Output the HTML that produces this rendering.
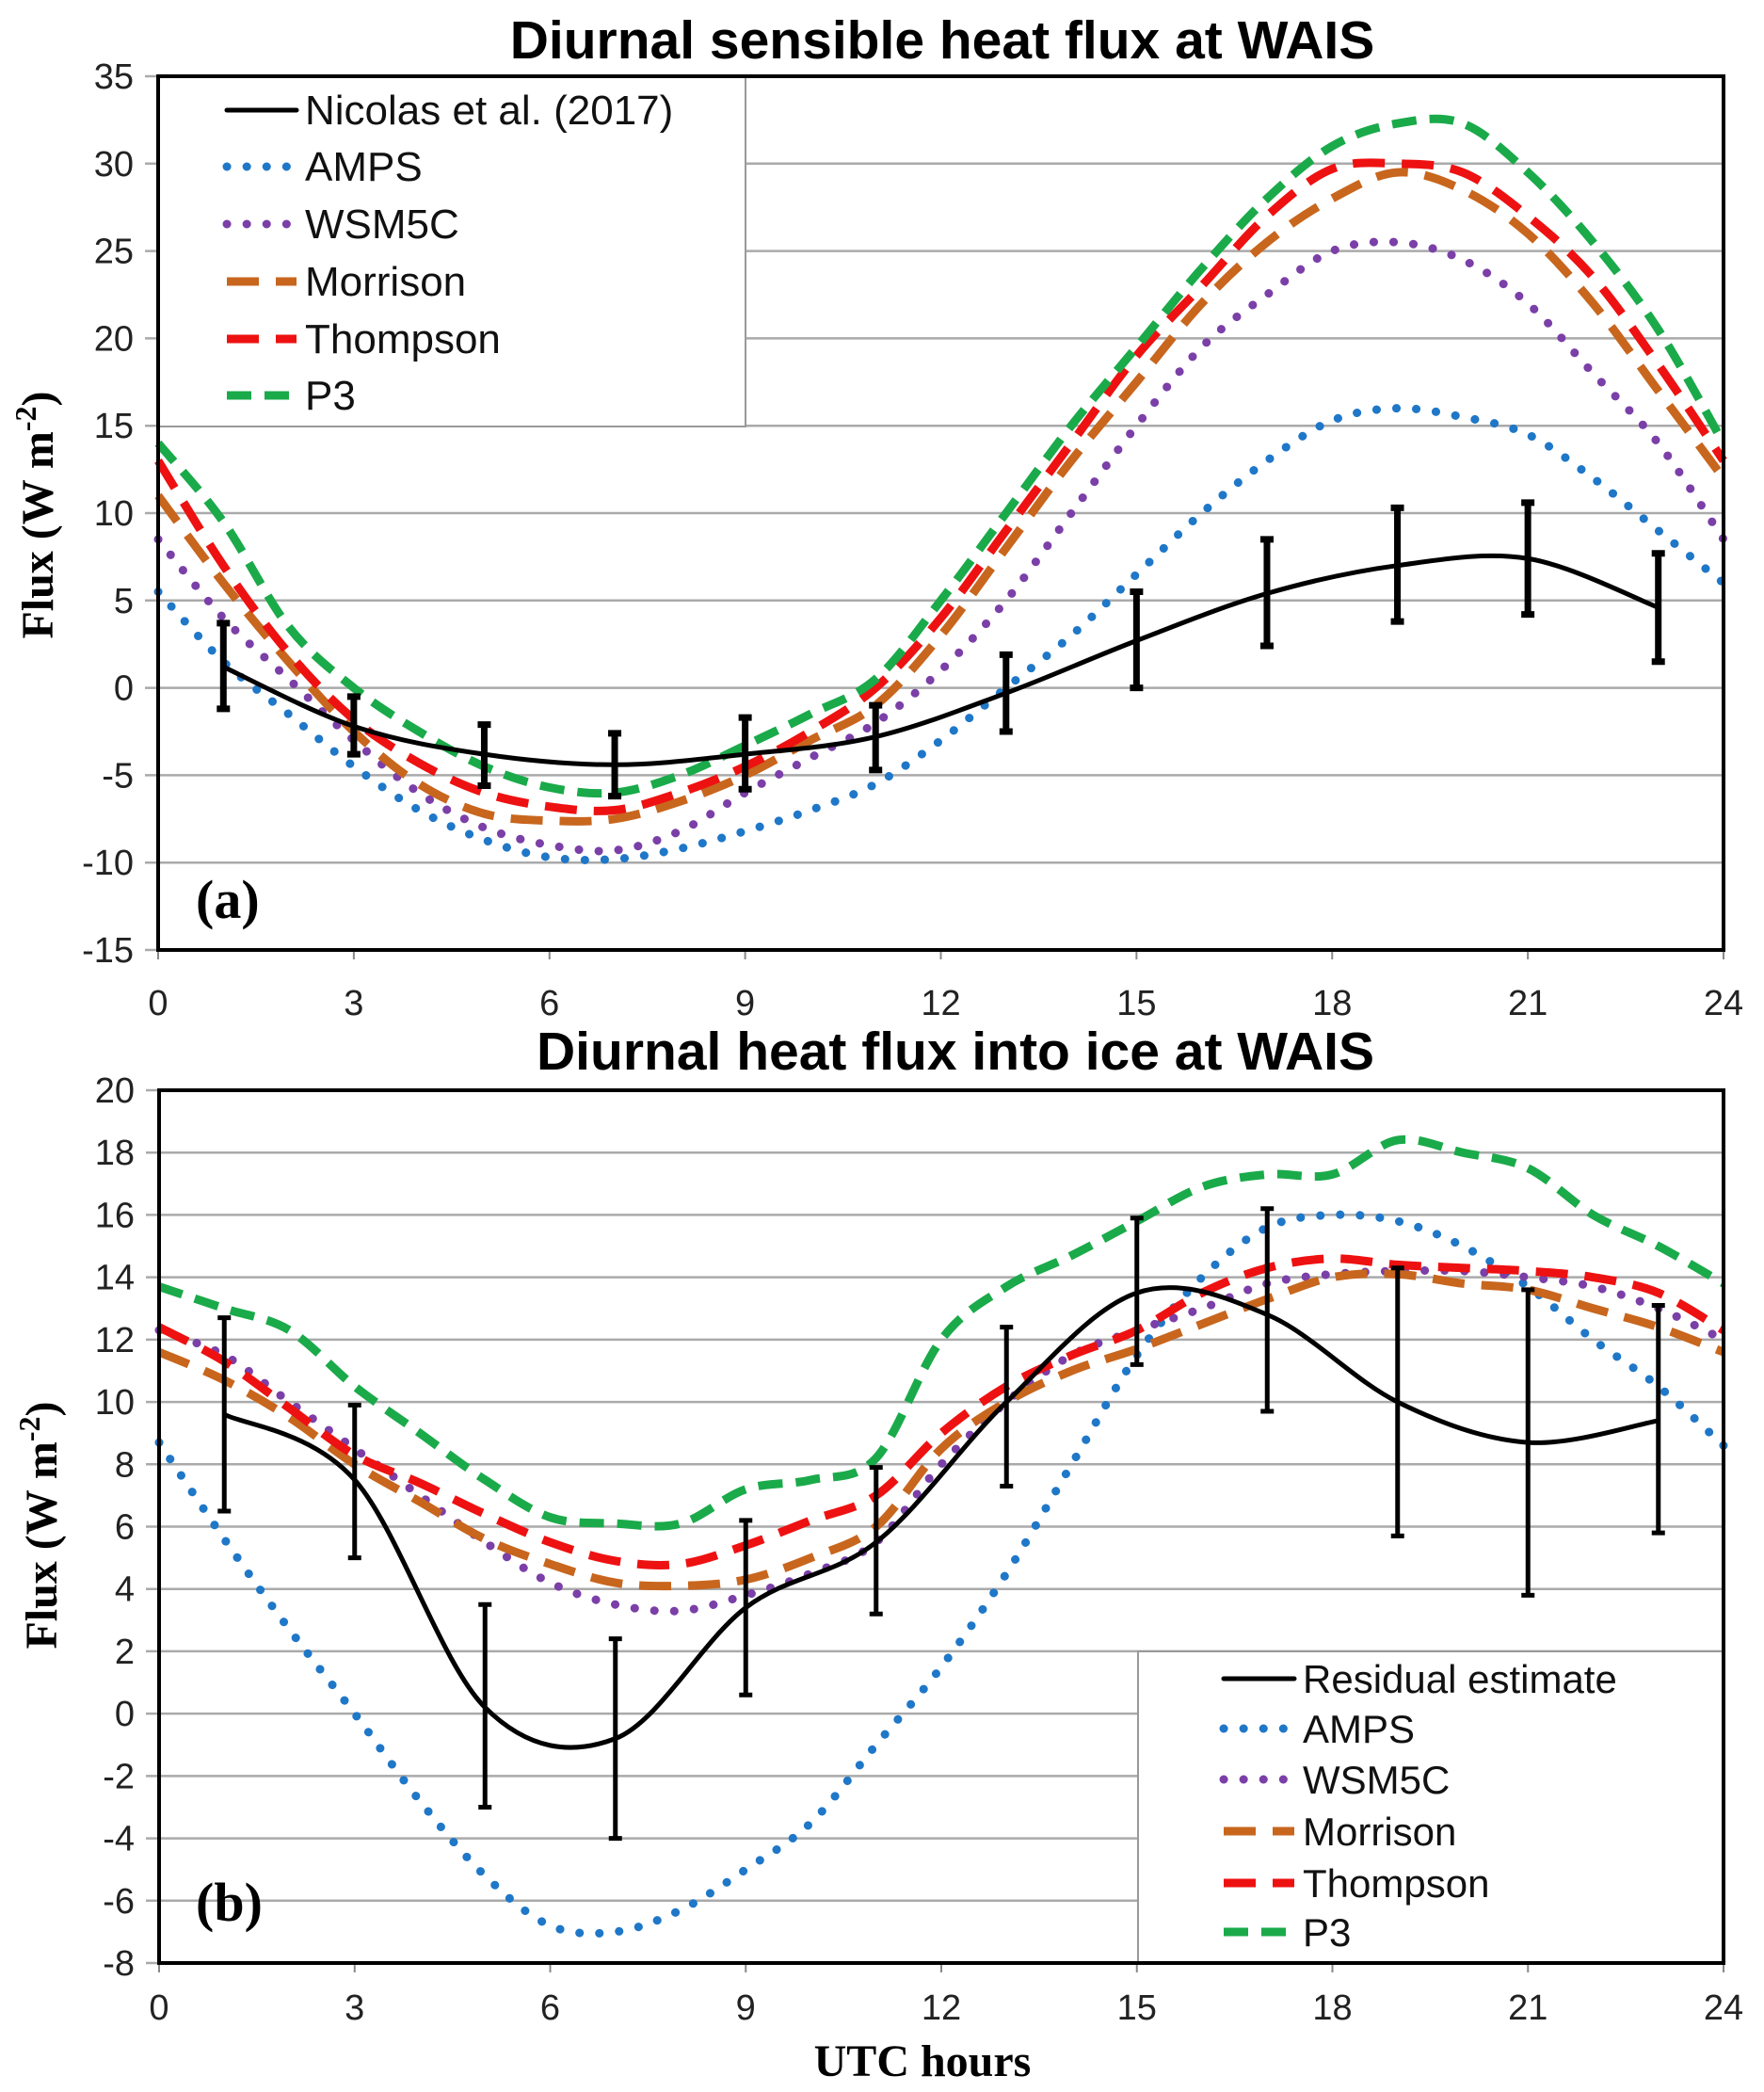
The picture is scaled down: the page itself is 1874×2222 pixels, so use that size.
<!DOCTYPE html>
<html><head><meta charset="utf-8">
<style>
html,body{margin:0;padding:0;background:#fff;}
svg{display:block;}
.tick{font-family:"Liberation Sans",Arial,sans-serif;font-size:38px;fill:#222;}
.title{font-family:"Liberation Sans",Arial,sans-serif;font-size:57px;font-weight:bold;fill:#000;}
.leg{font-family:"Liberation Sans",Arial,sans-serif;font-size:44px;fill:#111;}
.leg2{font-family:"Liberation Sans",Arial,sans-serif;font-size:42px;fill:#111;}
.axt{font-family:"Liberation Serif","Times New Roman",serif;font-size:48px;font-weight:bold;fill:#000;}
.pl{font-family:"Liberation Serif","Times New Roman",serif;font-size:58px;font-weight:bold;fill:#000;}
</style></head>
<body>
<svg id="chart" width="1874" height="2222" viewBox="0 0 1874 2222" xmlns="http://www.w3.org/2000/svg">
<text class="title" x="1001" y="62" text-anchor="middle">Diurnal sensible heat flux at WAIS</text>
<text class="title" x="1015" y="1136" text-anchor="middle">Diurnal heat flux into ice at WAIS</text>
<text class="axt" transform="translate(56,547) rotate(-90)" text-anchor="middle">Flux  (W m<tspan dy="-18" font-size="32">-2</tspan><tspan dy="18">)</tspan></text>
<text class="axt" transform="translate(60,1620) rotate(-90)" text-anchor="middle">Flux  (W m<tspan dy="-18" font-size="32">-2</tspan><tspan dy="18">)</tspan></text>
<text class="axt" x="980" y="2205" text-anchor="middle">UTC hours</text>
<g id="top"></g>
<g id="bot"></g>
</svg>
<script>
const hours = [0,1,2,3,4,5,6,7,8,9,10,11,12,13,14,15,16,17,18,19,20,21,22,23,24];
const obsHours = [1,3,5,7,9,11,13,15,17,19,21,23];
// Top panel (a)
const aNicolas = [1.2,-2.2,-3.8,-4.4,-3.8,-2.8,-0.3,2.7,5.4,7.0,7.4,4.6];
const aNicolasLo = [-1.2,-3.8,-5.6,-6.2,-5.8,-4.7,-2.5,0,2.4,3.8,4.2,1.5];
const aNicolasHi = [3.7,-0.5,-2.1,-2.6,-1.7,-1.0,1.9,5.5,8.5,10.3,10.6,7.7];
const aAMPS = [5.5,1.5,-1.5,-4.5,-7,-8.7,-9.7,-9.8,-9.2,-8.2,-7,-5.5,-3,0,3,6.5,10,13,15.3,16,15.5,14.5,12,9,6];
const aWSM5C = [8.5,4,0.5,-3,-6,-8,-9,-9.3,-8.2,-6,-4,-2,1,5,10,15,19.5,22.5,25,25.5,24.5,22,18,14,8.5];
const aMorrison = [11,6,1.5,-2.5,-5.5,-7.2,-7.6,-7.5,-6.5,-5,-3,-1,3,8,13,17.5,22,25.5,28,29.5,28.5,26,22,17,12];
const aThompson = [13,7,2,-1.8,-4.3,-6,-6.8,-7,-6,-4.5,-2.5,0,4,9,14,19,23,27,29.7,30,29.5,27,23.5,18.5,13];
const aP3 = [14,9.5,3.5,0,-2.5,-4.5,-5.7,-6,-5,-3.3,-1.5,0.5,5,10,15,19.5,24,28,31,32.3,32.3,29.5,25.5,20.5,14];
const aYTicks = [-15,-10,-5,0,5,10,15,20,25,30,35];
// Bottom panel (b)
const bResid = [9.6,7.5,0.2,-0.8,3.4,5.5,10,13.5,12.8,10,8.7,9.4];
const bResidLo = [6.5,5,-3,-4,0.6,3.2,7.3,11.2,9.7,5.7,3.8,5.8];
const bResidHi = [12.7,9.9,3.5,2.4,6.2,7.9,12.4,15.9,16.2,14.3,13.6,13.1];
const bAMPS = [8.7,5.6,2.7,0,-2.8,-5.2,-6.8,-7,-6.3,-5,-3.5,-1,1.5,4.5,8,11.5,14,15.6,16,15.8,15,13.7,12,10.5,8.6];
const bWSM5C = [12.3,11.5,10,8.5,7,5.5,4.2,3.5,3.3,3.8,4.5,5.5,8,10,11.5,12.3,13,13.8,14.1,14.2,14.2,14,13.7,13,12];
const bMorrison = [11.6,10.7,9.5,8,6.8,5.6,4.8,4.2,4.1,4.3,5,6,8.5,10,11,11.7,12.5,13.3,14,14.1,13.8,13.6,13,12.4,11.6];
const bThompson = [12.4,11.3,9.8,8.3,7.4,6.4,5.5,4.9,4.8,5.4,6.2,7,9,10.5,11.5,12.3,13.5,14.3,14.6,14.4,14.3,14.2,14,13.5,12.3];
const bP3 = [13.7,13,12.3,10.5,9,7.5,6.3,6.1,6.1,7.2,7.5,8.2,12,13.7,14.7,15.8,16.9,17.3,17.3,18.4,18,17.5,16,15,13.8];
const bYTicks = [-8,-6,-4,-2,0,2,4,6,8,10,12,14,16,18,20];
const xTicks = [0,3,6,9,12,15,18,21,24];

const NS='http://www.w3.org/2000/svg';
function mk(parent,tag,attrs){const e=document.createElementNS(NS,tag);for(const k in attrs)e.setAttribute(k,attrs[k]);parent.appendChild(e);return e;}
function smooth(pts){let d='M'+pts[0][0]+','+pts[0][1];for(let i=0;i<pts.length-1;i++){const p0=pts[i-1]||pts[i],p1=pts[i],p2=pts[i+1],p3=pts[i+2]||p2;const c1x=p1[0]+(p2[0]-p0[0])/6,c1y=p1[1]+(p2[1]-p0[1])/6,c2x=p2[0]-(p3[0]-p1[0])/6,c2y=p2[1]-(p3[1]-p1[1])/6;d+=' C'+c1x+','+c1y+' '+c2x+','+c2y+' '+p2[0]+','+p2[1];}return d;}

const styles={
 AMPS:{stroke:'#1f77c8',w:9,dash:'0.1 21',cap:'round'},
 WSM5C:{stroke:'#7b3fa8',w:9,dash:'0.1 21',cap:'round'},
 Morrison:{stroke:'#c8661e',w:9,dash:'34 18',cap:'butt'},
 Thompson:{stroke:'#ee1111',w:9,dash:'34 18',cap:'butt'},
 P3:{stroke:'#1aaa4a',w:9,dash:'26 14',cap:'butt'},
 obs:{stroke:'#000',w:5,dash:'none',cap:'round'}
};

function panel(g,cfg){
 const X0=cfg.x0,X1=cfg.x1,Y0=cfg.yTop,Y1=cfg.yBot;
 const xs=h=>X0+(h-0)/24*(X1-X0);
 const ys=v=>Y1-(v-cfg.ymin)/(cfg.ymax-cfg.ymin)*(Y1-Y0);
 cfg.yTicks.forEach(t=>{
  const y=ys(t);
  const gl=mk(g,'line',{x1:X0-14,x2:X1,y1:y,y2:y,stroke:'#aaa','stroke-width':2.5});
  
  
  const tl=mk(g,'text',{x:X0-26,y:y+13,'text-anchor':'end',class:'tick'});tl.textContent=t;
  
  
 });
 xTicks.forEach(t=>{
  const x=xs(t);
  mk(g,'line',{x1:x,x2:x,y1:Y1,y2:Y1+10,stroke:'#888','stroke-width':2});
  const tl=mk(g,'text',{x:x,y:cfg.xLabelY,'text-anchor':'middle',class:'tick'});tl.textContent=t;
  
  
 });
 const lb=cfg.legend;
 const lr=mk(g,'rect',{x:lb.x,y:lb.y,width:lb.w,height:lb.h,fill:'#fff',stroke:'#999','stroke-width':2});
 
 
 cfg.series.forEach(s=>{
  const st=styles[s.style];
  const pts=hours.map((h,i)=>[xs(h),ys(s.data[i])]);
  const p=mk(g,'path',{d:smooth(pts),fill:'none',stroke:st.stroke,'stroke-width':st.w,'stroke-dasharray':st.dash,'stroke-linecap':st.cap});
  
  
 });
 const op=obsHours.map((h,i)=>[xs(h),ys(cfg.obs[i])]);
 const ol=mk(g,'path',{d:smooth(op),fill:'none',stroke:'#000','stroke-width':5});
 
 
 obsHours.forEach((h,i)=>{
  const x=xs(h),ya=ys(cfg.lo[i]),yb=ys(cfg.hi[i]);
  const eb=mk(g,'path',{d:`M${x},${ya}V${yb}M${x-7},${ya}H${x+7}M${x-7},${yb}H${x+7}`,stroke:'#000','stroke-width':cfg.ebw,fill:'none'});
  
  
 });
 const fr=mk(g,'rect',{x:X0,y:Y0,width:X1-X0,height:Y1-Y0,fill:'none',stroke:'#000','stroke-width':4});
 
 
 lb.entries.forEach((e,i)=>{
  const st=styles[e.style];const y=lb.rows[i];
  const ln=mk(g,'line',{x1:lb.lx1,x2:lb.lx2,y1:y,y2:y,stroke:st.stroke,'stroke-width':st.w,'stroke-dasharray':e.style==='obs'?'none':st.dash,'stroke-linecap':st.cap});
  
  
  const t=mk(g,'text',{x:lb.tx,y:y+15,class:lb.cls});t.textContent=e.label;
  
  
 });
 const pl=mk(g,'text',{x:cfg.plx,y:cfg.ply,class:'pl'});pl.textContent=cfg.pl;
 
 
}

panel(document.getElementById('top'),{
 x0:168,x1:1831,yTop:81,yBot:1009,ymin:-15,ymax:35,yTicks:aYTicks,xLabelY:1078,ebw:7,
 obs:aNicolas,lo:aNicolasLo,hi:aNicolasHi,
 series:[{name:'AMPS',style:'AMPS',data:aAMPS},{name:'WSM5C',style:'WSM5C',data:aWSM5C},{name:'Morrison',style:'Morrison',data:aMorrison},{name:'Thompson',style:'Thompson',data:aThompson},{name:'P3',style:'P3',data:aP3}],
 legend:{x:168,y:81,w:624,h:372,lx1:241,lx2:315,tx:324,cls:'leg',rows:[117,177,238,299,360,420],
  entries:[{label:'Nicolas et al. (2017)',style:'obs'},{label:'AMPS',style:'AMPS'},{label:'WSM5C',style:'WSM5C'},{label:'Morrison',style:'Morrison'},{label:'Thompson',style:'Thompson'},{label:'P3',style:'P3'}]},
 pl:'(a)',plx:208,ply:975
});
panel(document.getElementById('bot'),{
 x0:169,x1:1831,yTop:1158,yBot:2085,ymin:-8,ymax:20,yTicks:bYTicks,xLabelY:2145,ebw:5,
 obs:bResid,lo:bResidLo,hi:bResidHi,
 series:[{name:'AMPS',style:'AMPS',data:bAMPS},{name:'WSM5C',style:'WSM5C',data:bWSM5C},{name:'Morrison',style:'Morrison',data:bMorrison},{name:'Thompson',style:'Thompson',data:bThompson},{name:'P3',style:'P3',data:bP3}],
 legend:{x:1209,y:1754,w:622,h:331,lx1:1300,lx2:1375,tx:1384,cls:'leg2',rows:[1783,1836,1890,1945,2000,2052],
  entries:[{label:'Residual estimate',style:'obs'},{label:'AMPS',style:'AMPS'},{label:'WSM5C',style:'WSM5C'},{label:'Morrison',style:'Morrison'},{label:'Thompson',style:'Thompson'},{label:'P3',style:'P3'}]},
 pl:'(b)',plx:208,ply:2040
});
</script>
</body></html>
